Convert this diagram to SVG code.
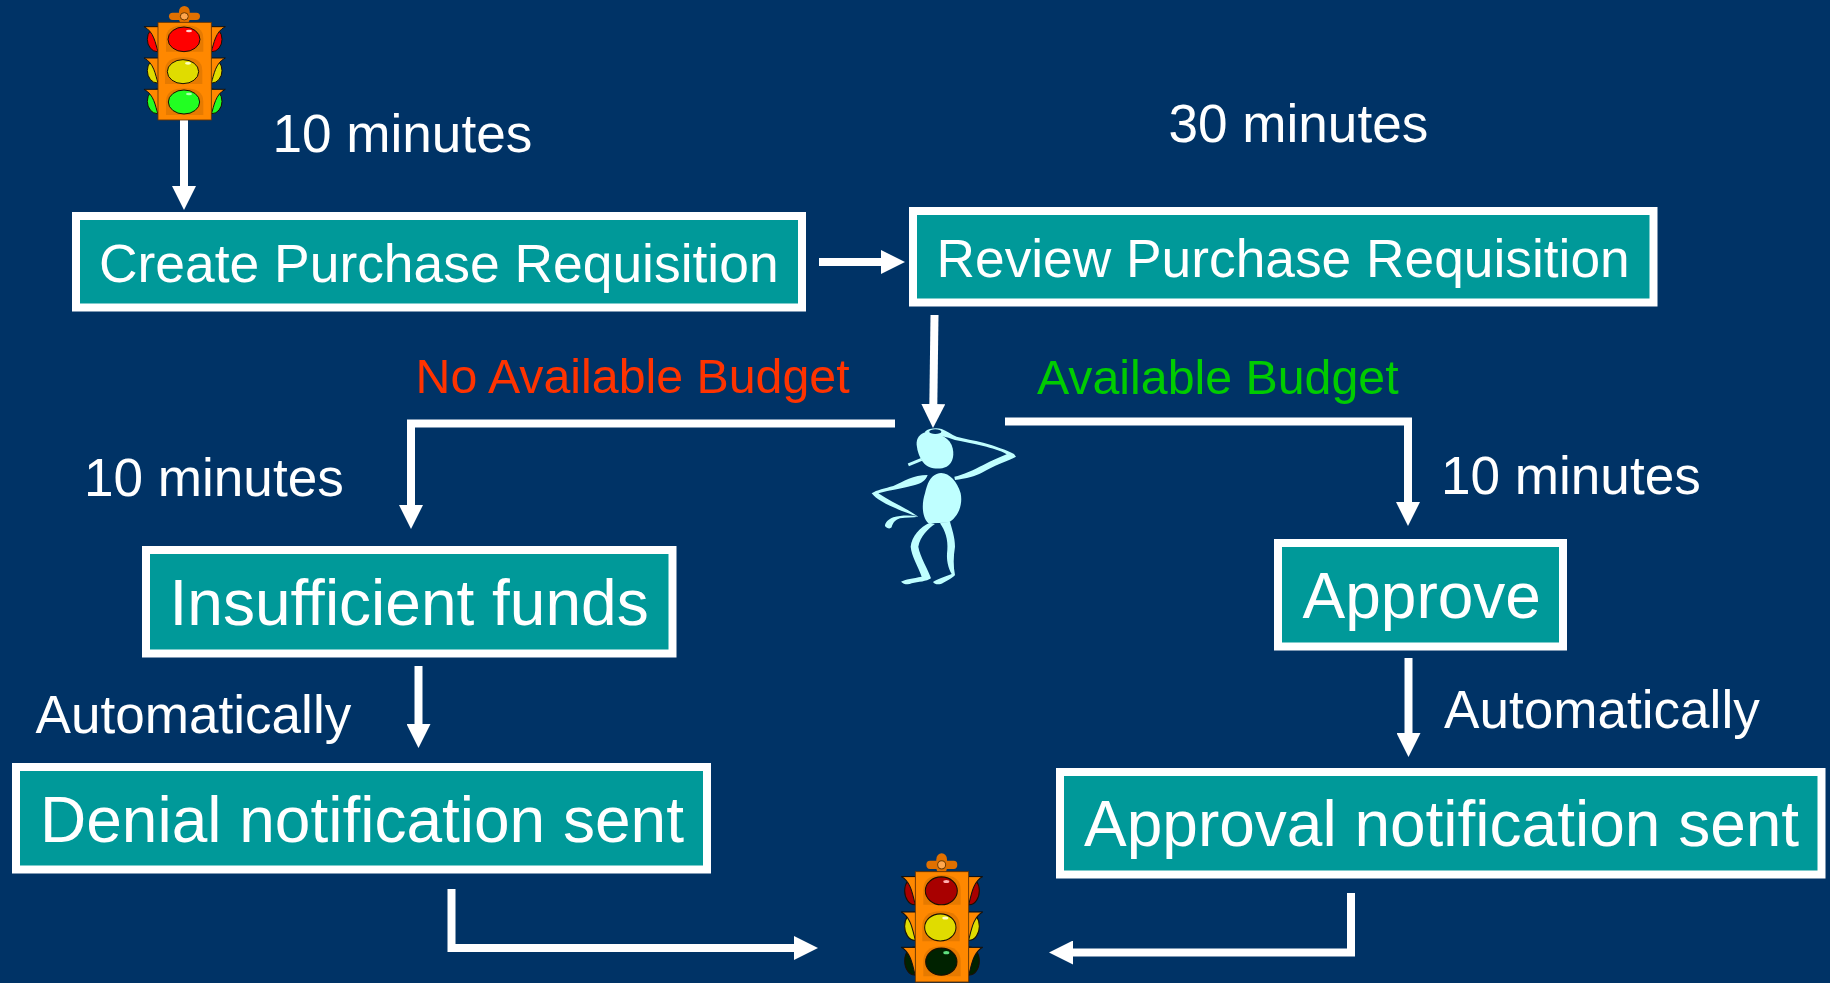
<svg xmlns="http://www.w3.org/2000/svg" xmlns:xlink="http://www.w3.org/1999/xlink" width="1830" height="983" viewBox="0 0 1830 983">
<style>
text{font-family:"Liberation Sans",Arial,sans-serif;fill:#fff}
.box{fill:#009999;stroke:#fff;stroke-width:8}
.t64{font-size:64px}.t53{font-size:53.1px}.t48{font-size:48.3px}
.conn{fill:none;stroke:#fff;stroke-width:8;marker-end:url(#ah)}
.man{fill:#BFFFFF}
.k{stroke:#1a0f00;stroke-width:3}
</style>
<defs>
<marker id="ah" markerUnits="userSpaceOnUse" markerWidth="24" markerHeight="24" refX="2" refY="12" orient="auto"><path d="M0 0L24 12L0 24Z" fill="#fff"/></marker>
<g id="vis">
<path d="M72 80H114V155C106 130 102 95 72 80Z" fill="#FF8800"/>
<path d="M72 80H114" stroke="#111" stroke-width="3"/>
<path d="M72 80C102 95 106 130 114 155" fill="none" stroke="#111" stroke-width="3"/>
</g>
<g id="housing">
<rect x="177" y="18" width="32" height="55" rx="16" fill="#E07000"/>
<rect x="147" y="38" width="93" height="22" rx="11" fill="#E07000"/>
<ellipse cx="193" cy="49" rx="12" ry="11" fill="#FFA64D" stroke="#6b3a00" stroke-width="3"/>
<use xlink:href="#vis"/><use xlink:href="#vis" y="94"/><use xlink:href="#vis" y="188"/>
<g transform="translate(388 0) scale(-1 1)"><use xlink:href="#vis"/><use xlink:href="#vis" y="94"/><use xlink:href="#vis" y="188"/></g>
<rect x="114" y="67" width="160" height="293" fill="#FF8800" stroke="#663300" stroke-width="2.5"/>
<path d="M138 155V115Q138 76 194 76Q250 76 250 115V155Z" fill="#E67A00"/>
<path d="M135 252V212Q135 172 191 172Q247 172 247 212V252Z" fill="#E67A00"/>
<path d="M138 345V305Q138 265 194 265Q250 265 250 305V345Z" fill="#E67A00"/>
</g>
</defs>
<rect width="1830" height="983" fill="#003366"/>

<g id="connectors">
<path class="conn" d="M184 120V188"/>
<path class="conn" d="M819 262H883"/>
<path class="conn" d="M934.500 315L933.300 406"/>
<path class="conn" d="M895 423.500H411V507"/>
<path class="conn" d="M1005 421.500H1408V504"/>
<path class="conn" d="M418.500 666V726"/>
<path class="conn" d="M1408.500 658V735"/>
<path class="conn" d="M451.500 889V948H796"/>
<path class="conn" d="M1351 893V952.500H1071"/>
</g>

<g id="light-top" transform="translate(120 0) scale(.3333)">
<g class="k">
<ellipse cx="112" cy="118" rx="30" ry="37" fill="#FF0000"/><ellipse cx="276" cy="118" rx="30" ry="37" fill="#FF0000"/>
<ellipse cx="112" cy="212" rx="30" ry="37" fill="#E0DC00"/><ellipse cx="276" cy="212" rx="30" ry="37" fill="#E0DC00"/>
<ellipse cx="112" cy="304" rx="30" ry="37" fill="#22FF22"/><ellipse cx="276" cy="304" rx="30" ry="37" fill="#22FF22"/>
</g>
<use xlink:href="#housing"/>
<g class="k">
<ellipse cx="192" cy="118" rx="48" ry="37" fill="#FF0000"/>
<ellipse cx="189" cy="215" rx="47" ry="36" fill="#E0DC00"/>
<ellipse cx="192" cy="306" rx="47" ry="36" fill="#22FF22"/>
</g>
<ellipse cx="207" cy="93" rx="9" ry="4" fill="#FFD0D0"/>
<ellipse cx="204" cy="190" rx="9" ry="4" fill="#FFFFC0"/>
<ellipse cx="207" cy="282" rx="9" ry="4" fill="#B0FFB0"/>
</g>

<g id="light-bottom" transform="translate(877.330 846.400) scale(.3333 .3767)">
<g class="k">
<ellipse cx="112" cy="118" rx="30" ry="37" fill="#A80000"/><ellipse cx="276" cy="118" rx="30" ry="37" fill="#A80000"/>
<ellipse cx="112" cy="212" rx="30" ry="37" fill="#E0DC00"/><ellipse cx="276" cy="212" rx="30" ry="37" fill="#E0DC00"/>
<ellipse cx="112" cy="304" rx="30" ry="37" fill="#002200"/><ellipse cx="276" cy="304" rx="30" ry="37" fill="#002200"/>
</g>
<use xlink:href="#housing"/>
<g class="k">
<ellipse cx="192" cy="118" rx="48" ry="37" fill="#A80000"/>
<ellipse cx="189" cy="215" rx="47" ry="36" fill="#E0DC00"/>
<ellipse cx="192" cy="306" rx="47" ry="36" fill="#002200"/>
</g>
<ellipse cx="207" cy="93" rx="9" ry="4" fill="#FFB0B0"/>
<ellipse cx="204" cy="190" rx="9" ry="4" fill="#FFFFC0"/>
<ellipse cx="207" cy="282" rx="9" ry="4" fill="#60E080"/>
</g>

<g id="person" class="man" transform="translate(840 400) scale(.3333)">
<path d="M230 135C228 115 240 100 258 96C290 100 320 105 335 135C345 160 340 190 320 200C295 212 262 205 248 185C238 170 232 155 230 135Z"/>
<path d="M255 95C265 85 290 83 305 87C320 92 335 105 350 110C375 117 400 120 430 128C465 138 500 150 522 162L528 170C510 180 480 190 460 200C435 212 415 225 395 230C375 235 360 238 345 240L343 230C370 225 400 210 430 195C455 182 480 172 500 163C480 150 455 145 430 138C400 130 370 125 345 120C320 110 290 105 258 103Z"/>
<ellipse cx="286" cy="95" rx="18" ry="7" fill="#003366"/>
<path d="M205 195L245 178" stroke="#BFFFFF" stroke-width="9" fill="none"/>
<path d="M290 222C320 210 350 240 362 280C370 320 350 355 325 368L265 370C245 350 245 310 255 280C262 250 270 230 290 222Z"/>
<path d="M263 225C220 225 190 245 160 258C135 265 110 270 95 280C110 300 150 320 205 340C215 345 225 347 235 350C210 345 185 345 160 352C145 358 135 368 135 378C140 385 150 388 155 382C158 370 165 360 180 355C200 352 220 352 235 350C200 325 150 305 115 280C150 270 190 265 225 255C245 250 258 240 263 225Z"/>
<path d="M270 368C240 380 215 410 212 440C215 470 235 500 245 530C220 535 195 538 183 545C190 553 205 555 215 550C235 545 260 545 273 535C265 510 240 470 235 440C240 410 265 385 285 372Z"/>
<path d="M300 370C315 390 325 420 322 450C318 480 325 505 335 522C315 530 290 538 279 546C285 555 300 555 310 548C325 540 340 532 345 525C340 500 340 470 345 440C345 410 335 385 330 365Z"/>
</g>

<g id="create"><rect class="box" x="76" y="216" width="726" height="91.500"/><text class="t53" x="99" y="282" style="font-size:53.4px">Create Purchase Requisition</text></g>
<g id="review"><rect class="box" x="913" y="211" width="740.500" height="91.500"/><text class="t53" x="936.500" y="277" style="font-size:53.3px">Review Purchase Requisition</text></g>
<g id="insufficient"><rect class="box" x="146" y="550" width="526.500" height="103.500"/><text class="t64" x="169.500" y="625">Insufficient funds</text></g>
<g id="approve"><rect class="box" x="1278" y="543" width="285" height="103.500"/><text class="t64" x="1302.500" y="618">Approve</text></g>
<g id="denial"><rect class="box" x="16" y="767" width="691" height="102.500"/><text class="t64" x="40" y="842">Denial notification sent</text></g>
<g id="approval"><rect class="box" x="1060" y="772" width="761.500" height="102.500"/><text class="t64" x="1084" y="846">Approval notification sent</text></g>

<g id="labels">
<text class="t53" x="272.500" y="152">10 minutes</text>
<text class="t53" x="1168.500" y="141.500">30 minutes</text>
<text class="t48" x="415.500" y="393" style="fill:#FF3300">No Available Budget</text>
<text class="t48" x="1037" y="394" style="fill:#00CC00">Available Budget</text>
<text class="t53" x="84" y="496">10 minutes</text>
<text class="t53" x="1441" y="494">10 minutes</text>
<text class="t53" x="35.500" y="733">Automatically</text>
<text class="t53" x="1444" y="728">Automatically</text>
</g>
</svg>
